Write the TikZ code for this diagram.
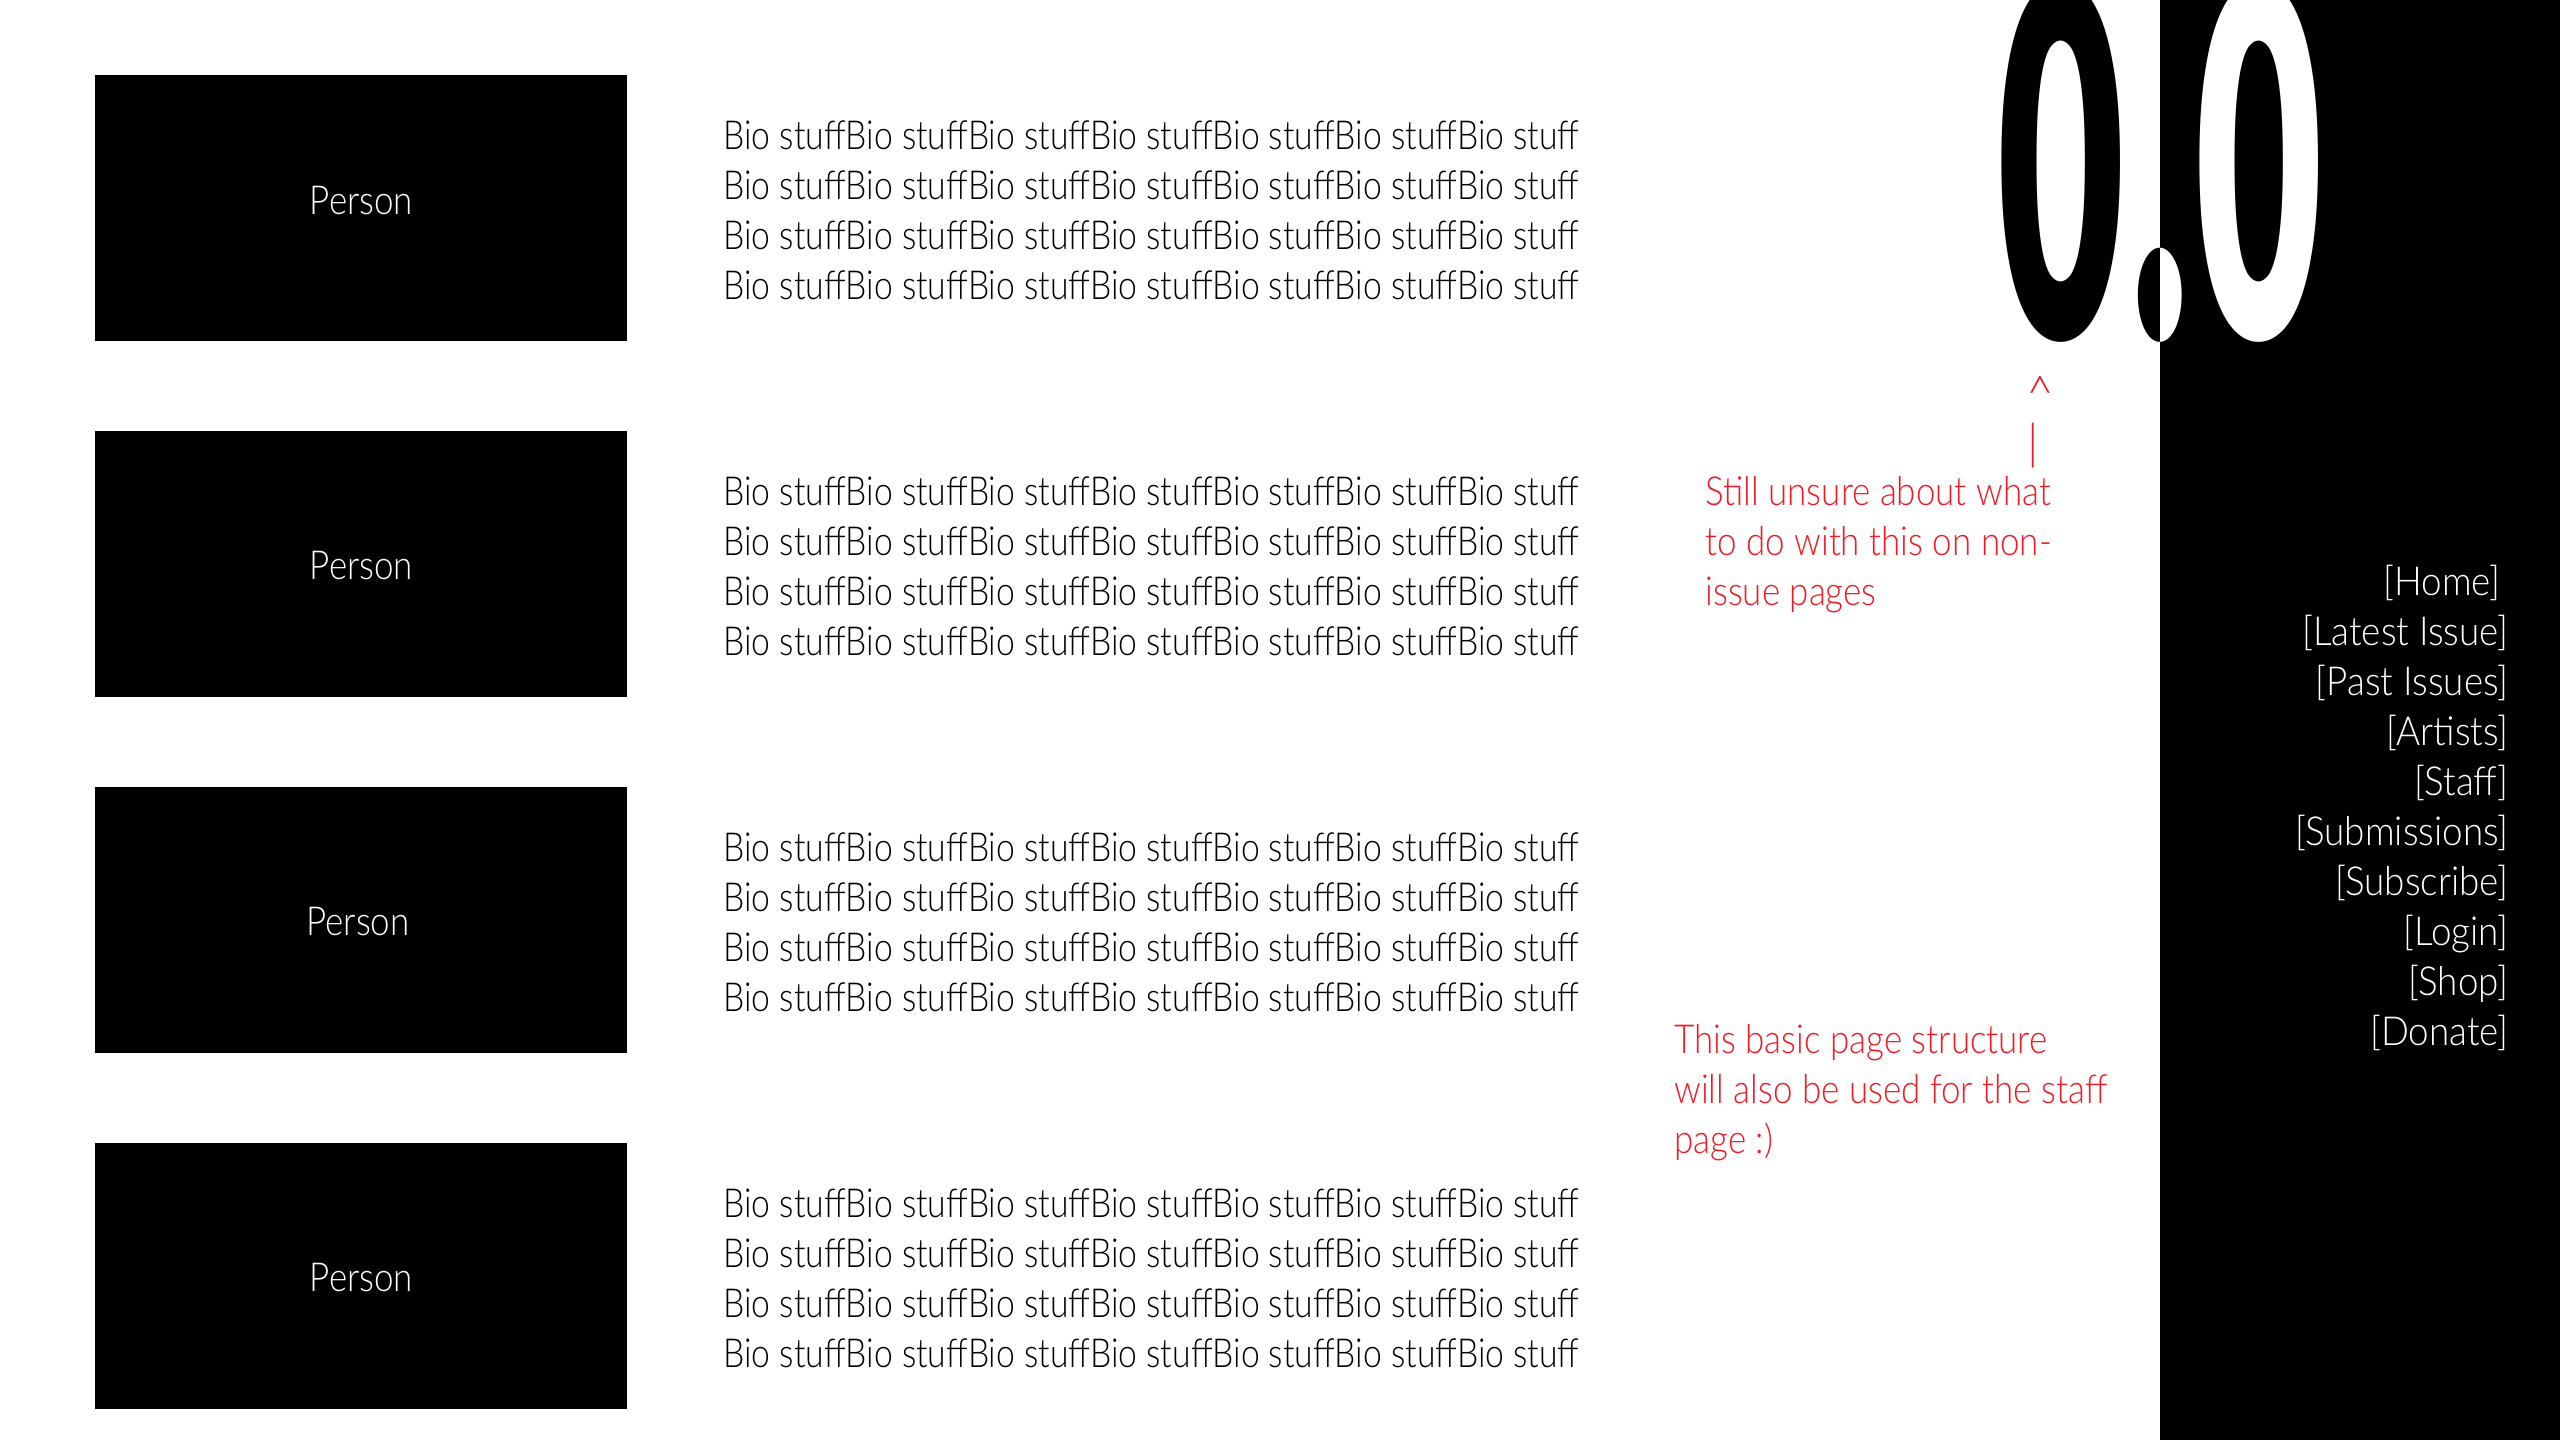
\documentclass[tikz,border=0pt]{standalone}
\usepackage{fontspec}
\setmainfont{Lato Light}
\newfontfamily\biofont[FakeStretch=0.842]{Lato Light}
\newfontfamily\labelfont[FakeStretch=0.873]{Lato Light}
\newfontfamily\navfont[FakeStretch=0.92]{Lato Light}
\newfontfamily\heavy{Lato Black}
\definecolor{note}{HTML}{ED1C24}
\tikzset{x=0.5pt,y=-0.5pt,
 portrait/.style={fill=black,draw=none,minimum width=532.5pt*0.5,minimum height=266pt*0.5,inner sep=0,anchor=north west},
 bodytext/.style={font=\biofont\fontsize{20}{25}\selectfont,align=left,anchor=base west,inner sep=0},
 persontext/.style={font=\labelfont\fontsize{20}{25}\selectfont,text=white,anchor=base,inner sep=0},
 notetext/.style={font=\labelfont\fontsize{20}{25}\selectfont,align=left,anchor=base west,inner sep=0,text=note},
 marktext/.style={font=\fontsize{24}{25}\selectfont,anchor=base,inner sep=0,text=note},
 navtext/.style={font=\navfont\fontsize{20}{25}\selectfont,align=right,anchor=base east,inner sep=0,text=white},
 bigzero/.style={inner sep=0,anchor=base west,xscale=1.83,yscale=4.05,transform shape,font=\heavy\fontsize{60}{60}\selectfont},
}
\newcommand{\biolines}{Bio stuffBio stuffBio stuffBio stuffBio stuffBio stuffBio stuff\\Bio stuffBio stuffBio stuffBio stuffBio stuffBio stuffBio stuff\\Bio stuffBio stuffBio stuffBio stuffBio stuffBio stuffBio stuff\\Bio stuffBio stuffBio stuffBio stuffBio stuffBio stuffBio stuff}
\newcommand{\zerotext}{0\kern1.45pt{\fontsize{68}{60}\selectfont.}\kern1.65pt 0}
\begin{document}
\begin{tikzpicture}
\useasboundingbox (0,0) rectangle (2560,1440);
\fill[white] (0,0) rectangle (2560,1440);
\fill[black] (2160,0) rectangle (2560,1440);
\begin{scope}
\clip (0,0) rectangle (2160,1440);
\node[bigzero,text=black] (zeroA) at (1997,338) {\zerotext};
\end{scope}
\begin{scope}
\clip (2160,0) rectangle (2560,1440);
\node[bigzero,text=white] (zeroB) at (1997,338) {\zerotext};
\end{scope}
\foreach \i/\y in {a/75,b/431,c/787,d/1143}{
 \node[portrait] (p\i) at (94.5,\y) {};
 \node[bodytext] (t\i) at (723,\y+224) {\biolines};
}
\node[persontext] (la) at (361.5,214) {Person};
\node[persontext] (lb) at (361.5,579) {Person};
\node[persontext] (lc) at (358,935) {Person};
\node[persontext] (ld) at (361.5,1291) {Person};
\node[notetext] (n1) at (1705,605) {Still unsure about what\\to do with this on non-\\issue pages};
\node[notetext] (n2) at (1674,1153) {This basic page structure\\will also be used for the staff\\page :)};
\node[marktext] (up) at (2040,410) {\^{}};
\node[marktext] (bar) at (2033,459) {|};
\node[navtext] (nav) at (2509,1045) {[Home]\hspace*{4pt}\\{[Latest Issue]}\\{[Past Issues]}\\{[Artists]}\\{[Staff]}\\{[Submissions]}\\{[Subscribe]}\\{[Login]}\\{[Shop]}\hspace*{4pt}\\{[Donate]}};
\end{tikzpicture}
\end{document}
